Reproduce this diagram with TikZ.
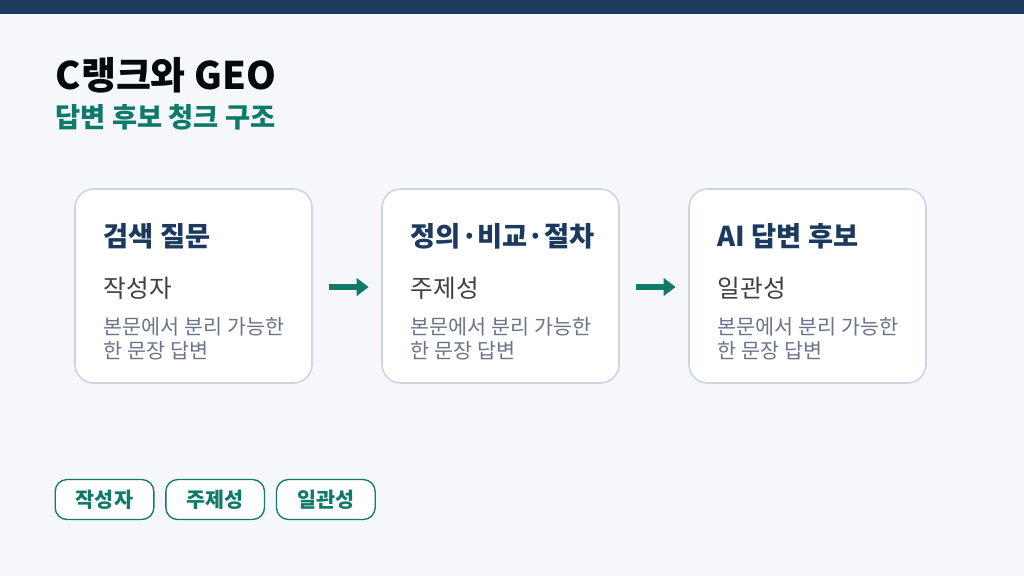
\documentclass[tikz,border=0pt]{standalone}
\usepackage{fontspec}
\setmainfont{Noto Sans CJK KR}
\usepackage{xcolor}
\usetikzlibrary{arrows.meta, positioning}
\definecolor{navy}{HTML}{1B3A5E}
\definecolor{teal}{HTML}{0F7A6A}
\definecolor{pagebg}{HTML}{F5F7FB}
\definecolor{cardline}{HTML}{CDD5E2}
\definecolor{inkgray}{HTML}{6B7488}
\begin{document}
\begin{tikzpicture}[
                x=0.75pt, y=-0.75pt,
                card/.style={draw=cardline, line width=1.2pt, fill=white, rounded corners=14pt},
                head/.style={anchor=west, font=\fontsize{20.5}{22}\selectfont\bfseries, text=navy},
                sub/.style={anchor=west, font=\fontsize{18.5}{20}\selectfont, text=black!75},
                desc/.style={anchor=north west, align=left, font=\fontsize{15.5}{18}\selectfont, text=inkgray},
                flow/.style={teal, line width=3.8pt, -{Triangle[length=9pt, width=13pt]}},
                pill/.style={draw=teal, line width=1pt, fill=white, rounded corners=9pt,
                    minimum width=74pt, minimum height=30pt, font=\fontsize{15.5}{17}\selectfont\bfseries, text=teal}
            ]
                % Background
                \fill[pagebg] (0,0) rectangle (1024,576);
                \fill[navy] (0,0) rectangle (1024,14);

                % Title
                \node[anchor=west, font=\fontsize{28.5}{30}\selectfont\bfseries, text=black!85!navy] (title) at (51,75) {C랭크와 GEO};
                \node[anchor=west, font=\fontsize{20.5}{22}\selectfont\bfseries, text=teal] (subtitle) at (51,117) {답변 후보 청크 구조};

                % Cards
                \foreach \x/\n/\h/\s in {75/one/검색 질문/작성자, 382/two/정의·비교·절차/주제성, 689/three/AI 답변 후보/일관성} {
                    \draw[card] (\x,189) rectangle ++(237,194);
                    \coordinate (\n-w) at (\x,287);
                    \coordinate (\n-e) at (\x+237,287);
                    \node[head] (\n-head) at (\x+24,236) {\h};
                    \node[sub] (\n-sub) at (\x+24,288) {\s};
                    \node[desc] (\n-desc) at (\x+24,313) {본문에서 분리 가능한\\한 문장 답변};
                }

                % Arrows
                \draw[flow] ([xshift=13pt]one-e) -- ([xshift=-10pt]two-w);
                \draw[flow] ([xshift=13pt]two-e) -- ([xshift=-10pt]three-w);

                % Tags
                \node[pill] (tag1) at (104.5,499.5) {작성자};
                \node[pill, right=8pt of tag1] (tag2) {주제성};
                \node[pill, right=8pt of tag2] (tag3) {일관성};
            \end{tikzpicture}
\end{document}
